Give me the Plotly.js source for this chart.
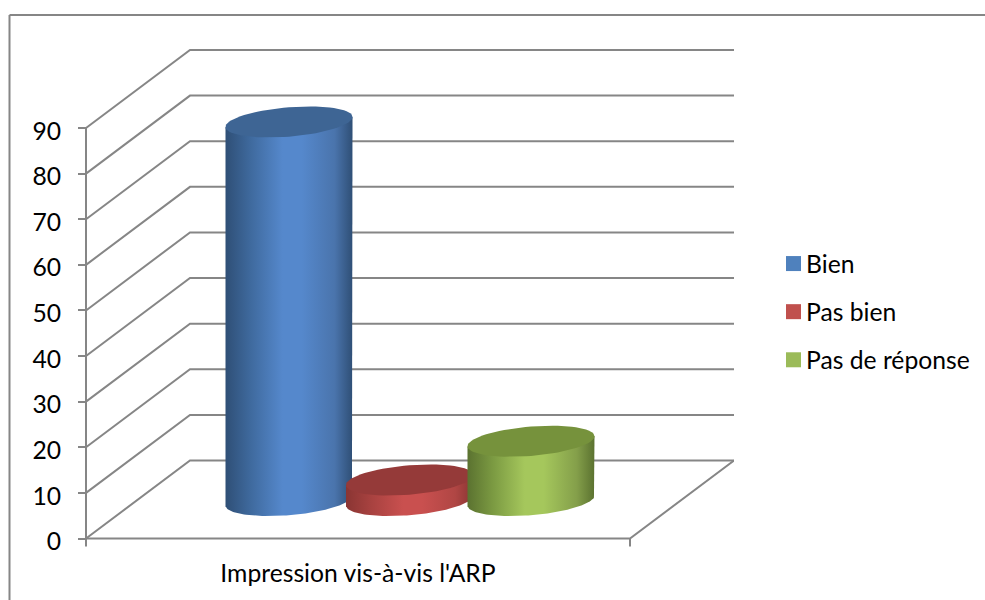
<!DOCTYPE html>
<html><head><meta charset="utf-8">
<script src="https://cdn.plot.ly/plotly-3.0.1.min.js"></script>
<style>html,body{margin:0;padding:0;background:#fff}</style></head>
<body><div id="chart" style="width:985px;height:600px"></div>
<script>
const seriesNames = ["Bien", "Pas bien", "Pas de réponse"];
const seriesValues = [83, 4.5, 13];
const categoryLabels = ["Impression vis-à-vis l'ARP"];
const valueTicks = [0, 10, 20, 30, 40, 50, 60, 70, 80, 90];
const sideColors = [["#2f4f76", "#3f6a9e", "#5588cc", "#4a74ac"], ["#8a3533", "#a84240", "#c9504f", "#b04644"], ["#5b7230", "#7b9a42", "#a5c75c", "#849f4a"]];
const topColors = ["#3e6594", "#953a39", "#76923c"];
const legendColors = ["#4f81bd", "#c0504d", "#9bbb59"];

// view geometry: x is the floor width (0..1), y is the value scale
const W = 985, H = 600, L = 86, R = 734, T = 49, B = 538.5;
const plotL = 60, plotB = 556;
const pxPerX = 544, pxPerY = 410.5 / 90;
const depthX = 104 / pxPerX, depthY = 78 / pxPerY;
const midDepthY = 38 / pxPerY;
const centers = [(289 - L) / pxPerX, (409.5 - L) / pxPerX, (531 - L) / pxPerX];
const radX = 63.5 / pxPerX, radY = 14.7 / pxPerY, tilt = 5 / pxPerY;
const STEPS = 72;

function ellipse(cx, cy, from, to) {
  const xs = [], ys = [];
  for (let i = 0; i <= STEPS; i++) {
    const t = from + (to - from) * i / STEPS;
    xs.push(cx + radX * Math.cos(t));
    ys.push(cy + tilt * Math.cos(t) + radY * Math.sin(t));
  }
  return [xs, ys];
}

const traces = [];
const gridColor = "#868686";
// walls, floor and axis
{
  const gx = [], gy = [];
  valueTicks.forEach(v => {
    gx.push(0, depthX, 1 + depthX, null);
    gy.push(v, v + depthY, v + depthY, null);
  });
  gx.push(1 + depthX, 1, 0, null, 0, 0, null, 1, 1);
  gy.push(depthY, 0, 0, null, -8 / pxPerY, valueTicks[valueTicks.length - 1], null, 0, -8 / pxPerY);
  traces.push({x: gx, y: gy, mode: "lines", line: {color: gridColor, width: 2, simplify: false},
    connectgaps: false, cliponaxis: false, showlegend: false, hoverinfo: "skip"});
}
// legend keys carry the values; they sit under the cylinders
seriesNames.forEach((n, i) => {
  traces.push({x: [centers[i]], y: [seriesValues[i] + midDepthY], name: n, legendgroup: n, mode: "markers",
    marker: {symbol: "square", size: 15, color: legendColors[i]}, hoverinfo: "name+y"});
});
seriesNames.forEach((n, i) => {
  const cx = centers[i], top = seriesValues[i] + midDepthY, base = midDepthY;
  const [bx, by] = ellipse(cx, base, 0, -Math.PI);
  const xs = [cx + radX, ...bx, cx - radX, cx + radX];
  const ys = [top + tilt, ...by, top - tilt, top + tilt];
  const c = sideColors[i];
  traces.push({x: xs, y: ys, mode: "lines", fill: "toself", line: {width: 0, color: "rgba(0,0,0,0)"},
    fillgradient: {type: "horizontal", colorscale: [[0, c[0]], [0.2, c[1]], [0.45, c[2]], [0.6, c[2]], [0.86, c[3]], [1, c[0]]]},
    showlegend: false, hoverinfo: "skip", cliponaxis: false});
  const [tx, ty] = ellipse(cx, top, 0, 2 * Math.PI);
  traces.push({x: tx, y: ty, mode: "lines", fill: "toself", fillcolor: topColors[i], line: {width: 0, color: topColors[i]},
    showlegend: false, hoverinfo: "skip", cliponaxis: false});
});

const font = {family: "Lato, 'Open Sans', sans-serif", color: "#000", size: 24.7};
const px = v => (v - plotL) / (R - plotL), py = v => (plotB - v) / (plotB - T);
const layout = {
  width: W, height: H, autosize: false,
  margin: {l: plotL, r: W - R, t: T, b: H - plotB, pad: 0, autoexpand: false},
  paper_bgcolor: "#fff", plot_bgcolor: "rgba(0,0,0,0)", font,
  xaxis: {range: [(plotL - L) / pxPerX, (R - L) / pxPerX], tickvals: [0.5], ticktext: categoryLabels, ticks: "", ticklen: 0,
    showgrid: false, zeroline: false, showline: false, tickfont: font, automargin: false, fixedrange: true},
  yaxis: {range: [(B - plotB) / pxPerY, (B - T) / pxPerY], tickvals: valueTicks, ticks: "outside", ticklen: 8, tickwidth: 2, tickcolor: gridColor,
    anchor: "free", position: px(L), ticklabelstandoff: 12, ticklabelshift: 3,
    showgrid: false, zeroline: false, showline: false, tickfont: font, automargin: false, fixedrange: true},
  legend: {x: px(766), xanchor: "left", y: py(312), yanchor: "middle", font, tracegroupgap: 13, traceorder: "grouped", itemsizing: "trace",
    bgcolor: "rgba(0,0,0,0)", borderwidth: 0},
  shapes: [
    {type: "line", xref: "paper", yref: "paper", x0: px(9.5), x1: px(985), y0: py(15), y1: py(15), line: {color: gridColor, width: 2}},
    {type: "line", xref: "paper", yref: "paper", x0: px(9.5), x1: px(9.5), y0: py(15), y1: py(600), line: {color: gridColor, width: 2}}
  ],
  showlegend: true
};
Plotly.newPlot("chart", traces, layout, {displayModeBar: false, staticPlot: true}).then(() => {
  document.querySelectorAll("#chart .legendsymbols").forEach(g => g.setAttribute("transform", "translate(7.5,0)"));
});
</script></body></html>
